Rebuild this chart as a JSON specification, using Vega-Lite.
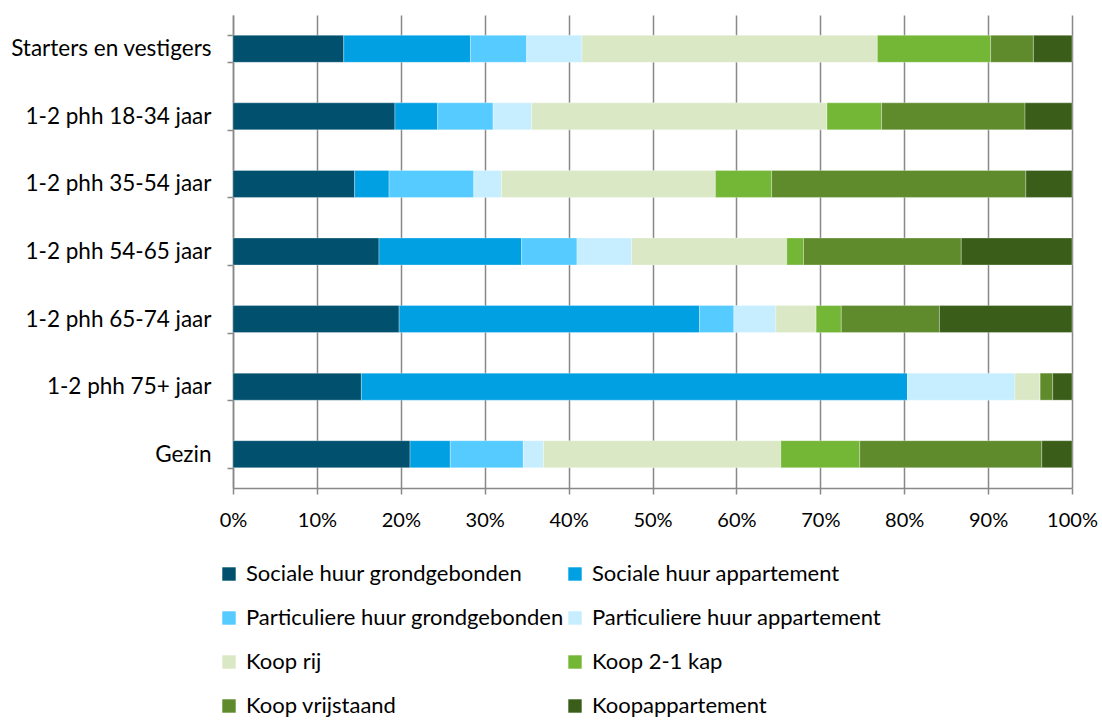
{
  "$schema": "https://vega.github.io/schema/vega-lite/v6.json",
  "autosize": {"type": "none"},
  "padding": {"left": 233, "top": 15, "right": 30, "bottom": 232},
  "width": 839,
  "height": 473,
  "config": {
    "font": "Lato",
    "view": {"stroke": null},
    "axis": {"labelFont": "Lato", "labelColor": "#000000"},
    "legend": {"labelFont": "Lato", "labelColor": "#000000"}
  },
  "data": {
    "values": [
      {"groep": "Starters en vestigers", "type": "Sociale huur grondgebonden", "aandeel": 13.2},
      {"groep": "Starters en vestigers", "type": "Sociale huur appartement", "aandeel": 15.1},
      {"groep": "Starters en vestigers", "type": "Particuliere huur grondgebonden", "aandeel": 6.7},
      {"groep": "Starters en vestigers", "type": "Particuliere huur appartement", "aandeel": 6.6},
      {"groep": "Starters en vestigers", "type": "Koop rij", "aandeel": 35.2},
      {"groep": "Starters en vestigers", "type": "Koop 2-1 kap", "aandeel": 13.5},
      {"groep": "Starters en vestigers", "type": "Koop vrijstaand", "aandeel": 5.1},
      {"groep": "Starters en vestigers", "type": "Koopappartement", "aandeel": 4.6},
      {"groep": "1-2 phh 18-34 jaar", "type": "Sociale huur grondgebonden", "aandeel": 19.3},
      {"groep": "1-2 phh 18-34 jaar", "type": "Sociale huur appartement", "aandeel": 5.1},
      {"groep": "1-2 phh 18-34 jaar", "type": "Particuliere huur grondgebonden", "aandeel": 6.6},
      {"groep": "1-2 phh 18-34 jaar", "type": "Particuliere huur appartement", "aandeel": 4.6},
      {"groep": "1-2 phh 18-34 jaar", "type": "Koop rij", "aandeel": 35.2},
      {"groep": "1-2 phh 18-34 jaar", "type": "Koop 2-1 kap", "aandeel": 6.5},
      {"groep": "1-2 phh 18-34 jaar", "type": "Koop vrijstaand", "aandeel": 17.1},
      {"groep": "1-2 phh 18-34 jaar", "type": "Koopappartement", "aandeel": 5.6},
      {"groep": "1-2 phh 35-54 jaar", "type": "Sociale huur grondgebonden", "aandeel": 14.5},
      {"groep": "1-2 phh 35-54 jaar", "type": "Sociale huur appartement", "aandeel": 4.1},
      {"groep": "1-2 phh 35-54 jaar", "type": "Particuliere huur grondgebonden", "aandeel": 10.1},
      {"groep": "1-2 phh 35-54 jaar", "type": "Particuliere huur appartement", "aandeel": 3.3},
      {"groep": "1-2 phh 35-54 jaar", "type": "Koop rij", "aandeel": 25.5},
      {"groep": "1-2 phh 35-54 jaar", "type": "Koop 2-1 kap", "aandeel": 6.7},
      {"groep": "1-2 phh 35-54 jaar", "type": "Koop vrijstaand", "aandeel": 30.3},
      {"groep": "1-2 phh 35-54 jaar", "type": "Koopappartement", "aandeel": 5.5},
      {"groep": "1-2 phh 54-65 jaar", "type": "Sociale huur grondgebonden", "aandeel": 17.4},
      {"groep": "1-2 phh 54-65 jaar", "type": "Sociale huur appartement", "aandeel": 17.0},
      {"groep": "1-2 phh 54-65 jaar", "type": "Particuliere huur grondgebonden", "aandeel": 6.6},
      {"groep": "1-2 phh 54-65 jaar", "type": "Particuliere huur appartement", "aandeel": 6.5},
      {"groep": "1-2 phh 54-65 jaar", "type": "Koop rij", "aandeel": 18.5},
      {"groep": "1-2 phh 54-65 jaar", "type": "Koop 2-1 kap", "aandeel": 2.0},
      {"groep": "1-2 phh 54-65 jaar", "type": "Koop vrijstaand", "aandeel": 18.8},
      {"groep": "1-2 phh 54-65 jaar", "type": "Koopappartement", "aandeel": 13.2},
      {"groep": "1-2 phh 65-74 jaar", "type": "Sociale huur grondgebonden", "aandeel": 19.8},
      {"groep": "1-2 phh 65-74 jaar", "type": "Sociale huur appartement", "aandeel": 35.8},
      {"groep": "1-2 phh 65-74 jaar", "type": "Particuliere huur grondgebonden", "aandeel": 4.1},
      {"groep": "1-2 phh 65-74 jaar", "type": "Particuliere huur appartement", "aandeel": 5.0},
      {"groep": "1-2 phh 65-74 jaar", "type": "Koop rij", "aandeel": 4.8},
      {"groep": "1-2 phh 65-74 jaar", "type": "Koop 2-1 kap", "aandeel": 3.0},
      {"groep": "1-2 phh 65-74 jaar", "type": "Koop vrijstaand", "aandeel": 11.7},
      {"groep": "1-2 phh 65-74 jaar", "type": "Koopappartement", "aandeel": 15.8},
      {"groep": "1-2 phh 75+ jaar", "type": "Sociale huur grondgebonden", "aandeel": 15.3},
      {"groep": "1-2 phh 75+ jaar", "type": "Sociale huur appartement", "aandeel": 65.1},
      {"groep": "1-2 phh 75+ jaar", "type": "Particuliere huur grondgebonden", "aandeel": 0},
      {"groep": "1-2 phh 75+ jaar", "type": "Particuliere huur appartement", "aandeel": 12.8},
      {"groep": "1-2 phh 75+ jaar", "type": "Koop rij", "aandeel": 3.0},
      {"groep": "1-2 phh 75+ jaar", "type": "Koop 2-1 kap", "aandeel": 0},
      {"groep": "1-2 phh 75+ jaar", "type": "Koop vrijstaand", "aandeel": 1.5},
      {"groep": "1-2 phh 75+ jaar", "type": "Koopappartement", "aandeel": 2.3},
      {"groep": "Gezin", "type": "Sociale huur grondgebonden", "aandeel": 21.1},
      {"groep": "Gezin", "type": "Sociale huur appartement", "aandeel": 4.8},
      {"groep": "Gezin", "type": "Particuliere huur grondgebonden", "aandeel": 8.7},
      {"groep": "Gezin", "type": "Particuliere huur appartement", "aandeel": 2.4},
      {"groep": "Gezin", "type": "Koop rij", "aandeel": 28.3},
      {"groep": "Gezin", "type": "Koop 2-1 kap", "aandeel": 9.4},
      {"groep": "Gezin", "type": "Koop vrijstaand", "aandeel": 21.7},
      {"groep": "Gezin", "type": "Koopappartement", "aandeel": 3.6}
    ]
  },
  "transform": [
    {"calculate": "indexof(['Sociale huur grondgebonden', 'Sociale huur appartement', 'Particuliere huur grondgebonden', 'Particuliere huur appartement', 'Koop rij', 'Koop 2-1 kap', 'Koop vrijstaand', 'Koopappartement'], datum.type)", "as": "volgorde"}
  ],
  "mark": {"type": "bar", "stroke": "#ffffff", "strokeWidth": 0.5, "strokeOpacity": 0.6},
  "encoding": {
    "y": {
      "field": "groep",
      "type": "nominal",
      "sort": ["Starters en vestigers", "1-2 phh 18-34 jaar", "1-2 phh 35-54 jaar", "1-2 phh 54-65 jaar", "1-2 phh 65-74 jaar", "1-2 phh 75+ jaar", "Gezin"],
      "scale": {"paddingInner": 0.6, "paddingOuter": 0.3},
      "axis": {
        "title": null,
        "labelFontSize": 22.5,
        "labelPadding": 16,
        "labelLimit": 300,
        "tickSize": 6,
        "tickBand": "extent",
        "tickColor": "#888888",
        "tickWidth": 1.5,
        "domainColor": "#888888",
        "domainWidth": 1.5,
        "grid": false
      }
    },
    "x": {
      "field": "aandeel",
      "type": "quantitative",
      "stack": "normalize",
      "scale": {"domain": [0, 1], "nice": false},
      "axis": {
        "title": null,
        "format": ".0%",
        "values": [0, 0.1, 0.2, 0.3, 0.4, 0.5, 0.6, 0.7, 0.8, 0.9, 1],
        "labelFontSize": 20,
        "labelPadding": 16,
        "tickSize": 6,
        "tickColor": "#888888",
        "tickWidth": 1.5,
        "domainColor": "#888888",
        "domainWidth": 1.5,
        "grid": true,
        "gridColor": "#888888",
        "gridWidth": 1.5,
        "labelFlush": false
      }
    },
    "order": {"field": "volgorde", "type": "quantitative", "sort": "ascending"},
    "color": {
      "field": "type",
      "type": "nominal",
      "sort": ["Sociale huur grondgebonden", "Sociale huur appartement", "Particuliere huur grondgebonden", "Particuliere huur appartement", "Koop rij", "Koop 2-1 kap", "Koop vrijstaand", "Koopappartement"],
      "scale": {
        "domain": ["Sociale huur grondgebonden", "Sociale huur appartement", "Particuliere huur grondgebonden", "Particuliere huur appartement", "Koop rij", "Koop 2-1 kap", "Koop vrijstaand", "Koopappartement"],
        "range": ["#00506E", "#00A0E3", "#55CBFF", "#C6EEFF", "#DAE8C6", "#74B737", "#5F8B2D", "#3A5E1A"]
      },
      "legend": {
        "title": null,
        "orient": "none",
        "direction": "horizontal",
        "legendX": -15,
        "legendY": 548,
        "columns": 2,
        "gridAlign": "all",
        "columnPadding": -2,
        "rowPadding": 22,
        "symbolType": "square",
        "symbolSize": 180,
        "symbolStrokeWidth": 0,
        "labelFontSize": 22,
        "labelOffset": 6,
        "labelLimit": 400
      }
    }
  }
}
